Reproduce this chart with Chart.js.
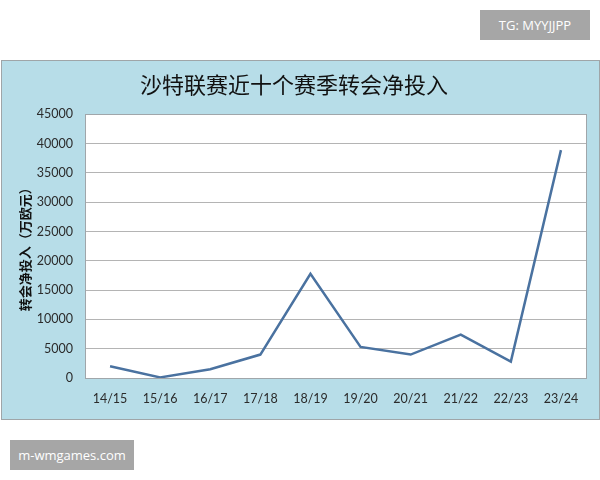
<!DOCTYPE html>
<html>
<head>
<meta charset="utf-8">
<script src="https://cdn.jsdelivr.net/npm/chart.js@4"></script>
<style>
    html, body { margin: 0; padding: 0; background: #fff; }
    body { width: 600px; height: 480px; position: relative; overflow: hidden; }
    .badge {
        position: absolute;
        background: #a6a6a6;
        color: #fff;
        font-family: "Open Sans", sans-serif;
        font-size: 13px;
        display: flex;
        align-items: center;
        justify-content: center;
    }
    #frame {
        position: absolute;
        left: 1px;
        top: 60px;
        width: 597px;
        height: 358px;
        background: #b7dde8;
        border: 1px solid #9fa5a8;
    }
    #frame canvas { position: absolute; left: 0; top: 0; }
</style>
</head>
<body>
<div class="badge" style="left:480px;top:10px;width:110px;height:30px;">TG: MYYJJPP</div>
<div id="frame"><canvas id="chart"></canvas></div>
<div class="badge" style="left:10px;top:440px;width:124px;height:30px;">m-wmgames.com</div>

<script>
// Seasons on the x axis
const seasons = ['14/15', '15/16', '16/17', '17/18', '18/19', '19/20', '20/21', '21/22', '22/23', '23/24'];

// Net transfer spend (10k EUR)
const netSpend = [2000, 100, 1500, 4000, 17800, 5300, 4000, 7400, 2800, 38900];

// Y axis ticks
const yTicks = [0, 5000, 10000, 15000, 20000, 25000, 30000, 35000, 40000, 45000];

const titleText = '沙特联赛近十个赛季转会净投入';
const yTitleText = '转会净投入（万欧元）';

const lineColor = 'rgb(74, 114, 160)';
const gridColor = '#b4b4b4';
const textColor = '#2b2b2b';

// White plot area with a thin grey border
const plotArea = {
    id: 'plotArea',
    beforeDraw(chart) {
        const { ctx, chartArea: a } = chart;
        ctx.save();
        ctx.fillStyle = '#fff';
        ctx.fillRect(a.left, a.top, a.right - a.left, a.bottom - a.top);
        ctx.restore();
    },
    afterDraw(chart) {
        const { ctx, chartArea: a } = chart;
        ctx.save();
        ctx.strokeStyle = '#a0a6aa';
        ctx.lineWidth = 1;
        ctx.strokeRect(Math.round(a.left) + 0.5, Math.round(a.top) + 0.5,
            Math.round(a.right - a.left), Math.round(a.bottom - a.top));
        ctx.restore();
    },
};

const canvas = document.getElementById('chart');
canvas.width = 597;
canvas.height = 358;
canvas.style.width = '597px';
canvas.style.height = '358px';

new Chart(canvas, {
    type: 'line',
    data: {
        labels: seasons,
        datasets: [{
            data: netSpend,
            borderColor: lineColor,
            borderWidth: 2.5,
            pointRadius: 0,
            tension: 0,
            fill: false,
        }],
    },
    options: {
        responsive: false,
        animation: false,
        devicePixelRatio: 1,
        layout: {
            padding: { left: 0, right: 13, top: 0, bottom: 0 },
        },
        plugins: {
            legend: { display: false },
            tooltip: { enabled: false },
            title: {
                display: true,
                text: titleText,
                color: '#111',
                font: { family: '"Noto Sans CJK SC", sans-serif', size: 22, weight: 'normal' },
                padding: { top: 10, bottom: 17 },
            },
        },
        scales: {
            x: {
                type: 'category',
                offset: true,
                grid: { display: false, drawTicks: false },
                border: { display: false },
                ticks: {
                    color: textColor,
                    font: { family: 'Lato, "Open Sans", sans-serif', size: 12.5 },
                    padding: 13,
                    maxRotation: 0,
                    autoSkip: false,
                },
                afterFit(scale) { scale.height = 41; },
            },
            y: {
                min: 0,
                max: 45000,
                afterBuildTicks(scale) {
                    scale.ticks = yTicks.map(v => ({ value: v }));
                },
                grid: { color: gridColor, lineWidth: 1, drawTicks: false },
                border: { display: false },
                ticks: {
                    color: textColor,
                    font: { family: 'Lato, "Open Sans", sans-serif', size: 12.5 },
                    padding: 12,
                    callback: (v) => String(v),
                },
                title: {
                    display: true,
                    text: yTitleText,
                    color: '#111',
                    font: { family: '"Noto Sans CJK SC", sans-serif', size: 13, weight: 'bold' },
                    padding: { top: 15, bottom: 0 },
                },
                afterFit(scale) { scale.width = 83; },
            },
        },
    },
    plugins: [plotArea],
});
</script>
</body>
</html>
